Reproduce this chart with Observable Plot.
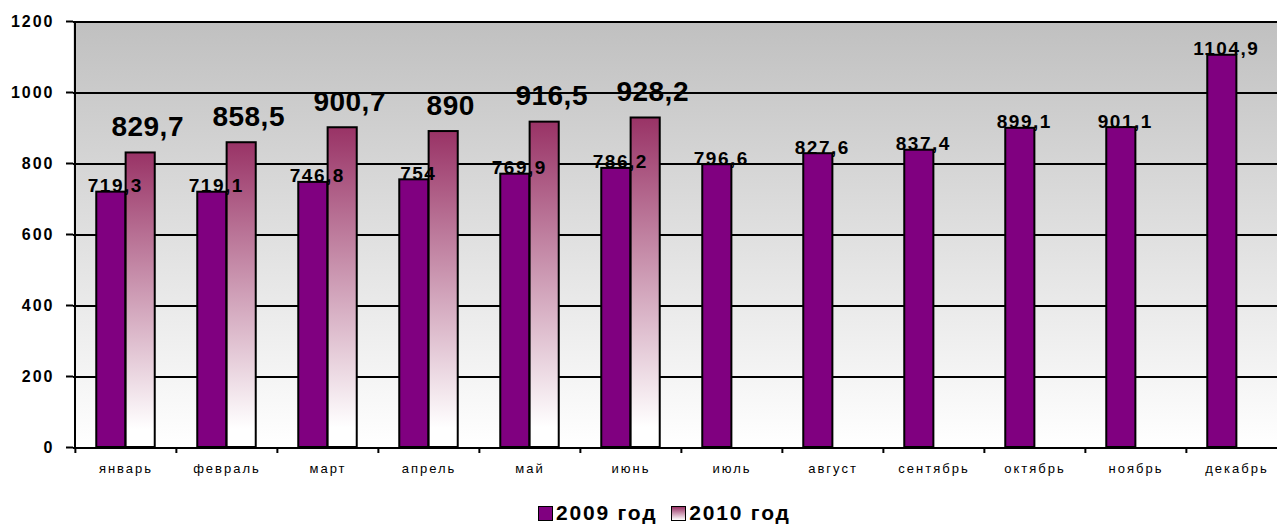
<!DOCTYPE html>
<html>
<head>
<meta charset="utf-8">
<script src="https://cdn.jsdelivr.net/npm/d3@7"></script>
<script src="https://cdn.jsdelivr.net/npm/@observablehq/plot@0.6"></script>
<style>
  html, body { margin: 0; padding: 0; background: #fff; overflow: hidden; width: 1277px; height: 524px; }
  body { font-family: "Liberation Sans", Arial, sans-serif; position: relative; }
  #chart { position: absolute; left: 0; top: 0; width: 1277px; height: 490px; overflow: hidden; }
  #chart svg { overflow: hidden; }
  g[aria-label="x-axis tick label"] text { letter-spacing: 2px; }
  g[aria-label="y-axis tick label"] text { letter-spacing: 2px; }
  g[aria-description="l2009"] text { letter-spacing: 1.5px; }
  g[aria-description="l2010"] text { letter-spacing: 0.5px; }
  #legend { position: absolute; left: 538px; top: 501px; display: flex; align-items: center; font-weight: bold; font-size: 21px; letter-spacing: 1.8px; color: #000; }
  .sw { width: 13px; height: 13px; border: 1.5px solid #000; margin-right: 3px; }
  .item { display: flex; align-items: center; margin-right: 14px; }
</style>
</head>
<body>
<div id="chart"></div>
<div id="legend"></div>
<script>
const months = ["январь", "февраль", "март", "апрель", "май", "июнь", "июль", "август", "сентябрь", "октябрь", "ноябрь", "декабрь"];
const values2009 = [719.3, 719.1, 746.8, 754, 769.9, 786.2, 796.6, 827.6, 837.4, 899.1, 901.1, 1104.9];
const values2010 = [829.7, 858.5, 900.7, 890, 916.5, 928.2];
const seriesNames = ["2009 год", "2010 год"];
const yTicks = [0, 200, 400, 600, 800, 1000, 1200];

const fmt = v => String(v).replace(".", ",");
const d2009 = values2009.map((v, i) => ({month: months[i], value: v}));
const d2010 = values2010.map((v, i) => ({month: months[i], value: v}));

const W = 1277, H = 490, mL = 73, mR = -11, mT = 21, mB = 43;
const bw = (W - mL - mR) / months.length;

function defs() {
  const d = d3.create("svg:defs");
  const bg = d.append("linearGradient").attr("id", "bgGrad").attr("x1", 0).attr("y1", 0).attr("x2", 0).attr("y2", 1);
  bg.append("stop").attr("offset", "0%").attr("stop-color", "#c0c0c0");
  bg.append("stop").attr("offset", "100%").attr("stop-color", "#ffffff");
  const bar = d.append("linearGradient").attr("id", "barGrad").attr("x1", 0).attr("y1", 0).attr("x2", 0).attr("y2", 1);
  bar.append("stop").attr("offset", "0%").attr("stop-color", "#993366");
  bar.append("stop").attr("offset", "94%").attr("stop-color", "#ffffff");
  bar.append("stop").attr("offset", "100%").attr("stop-color", "#ffffff");
  return d.node();
}

const chart = Plot.plot({
  width: W,
  height: H,
  marginLeft: mL,
  marginRight: mR,
  marginTop: mT,
  marginBottom: mB,
  style: {fontFamily: "'Liberation Sans', Arial, sans-serif", color: "#000", background: "#fff"},
  x: {type: "band", domain: months, padding: 0},
  y: {domain: [0, 1200]},
  marks: [
    defs,
    Plot.frame({fill: "url(#bgGrad)", stroke: null}),
    Plot.ruleY(yTicks, {stroke: "#000", strokeWidth: 2, shapeRendering: "crispEdges"}),
    Plot.barY(d2009, {x: "month", y: "value", fill: "#800080", stroke: "#000", strokeWidth: 2,
      insetLeft: bw * 0.21, insetRight: bw * 0.50}),
    Plot.barY(d2010, {x: "month", y: "value", fill: "url(#barGrad)", stroke: "#000", strokeWidth: 2,
      insetLeft: bw * 0.50, insetRight: bw * 0.21}),
    Plot.ruleX([months[0]], {dx: -bw / 2, stroke: "#000", strokeWidth: 2, shapeRendering: "crispEdges"}),
    Plot.axisY({ticks: yTicks, tickSize: 7, tickPadding: 12, tickFormat: d => String(d),
      fontSize: 16, fontWeight: "bold", strokeWidth: 2, stroke: "#000", label: null}),
    Plot.axisX({tickSize: 6, tickFormat: () => "", dx: -bw / 2, strokeWidth: 2, stroke: "#000", label: null}),
    Plot.axisX({tickSize: 0, tickPadding: 16, fontSize: 13, label: null}),
    Plot.text(d2009, {x: "month", y: "value", text: d => fmt(d.value), dx: -bw * 0.145 + 4, dy: 0,
      lineAnchor: "bottom", fontSize: 19, fontWeight: "bold", fill: "#000", ariaDescription: "l2009"}),
    Plot.text(d2010, {x: "month", y: "value", text: d => fmt(d.value), dx: bw * 0.145 + 7, dy: -17,
      lineAnchor: "bottom", fontSize: 28, fontWeight: "bold", fill: "#000", ariaDescription: "l2010"})
  ]
});
document.getElementById("chart").appendChild(chart);

const legend = document.getElementById("legend");
const swatches = ["#800080", "linear-gradient(to bottom, #993366, #ffffff)"];
seriesNames.forEach((name, i) => {
  const item = document.createElement("div");
  item.className = "item";
  const sw = document.createElement("div");
  sw.className = "sw";
  sw.style.background = swatches[i];
  const t = document.createElement("span");
  t.textContent = name;
  item.appendChild(sw);
  item.appendChild(t);
  legend.appendChild(item);
});
</script>
</body>
</html>
